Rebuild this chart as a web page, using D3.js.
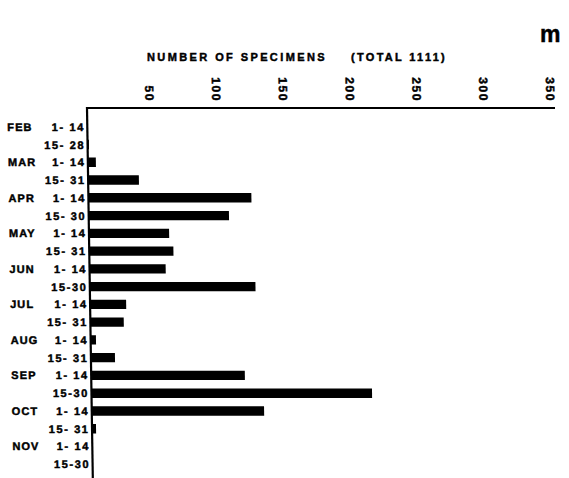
<!DOCTYPE html>
<html>
<head>
<meta charset="utf-8">
<script src="https://cdn.jsdelivr.net/npm/d3@7/dist/d3.min.js"></script>
<style>
  html, body { margin: 0; padding: 0; background: #fff; }
  svg text { font-family: "Liberation Sans", Arial, sans-serif; font-weight: bold; fill: #000; stroke: #000; stroke-width: 0.45px; }
</style>
</head>
<body>
<svg id="chart" width="569" height="478"></svg>
<script>
// Half-month collecting periods, grouped by month
const months = ["FEB", "MAR", "APR", "MAY", "JUN", "JUL", "AUG", "SEP", "OCT", "NOV"];
const periods = [
  "1- 14", "15- 28",
  "1- 14", "15- 31",
  "1- 14", "15- 30",
  "1- 14", "15- 31",
  "1- 14", "15-30",
  "1- 14", "15- 31",
  "1- 14", "15- 31",
  "1- 14", "15-30",
  "1- 14", "15- 31",
  "1- 14", "15-30"
];
// Specimens collected in each period
const counts = [0, 1, 6, 38, 122, 105, 60, 63, 57, 124, 27, 25, 4, 18, 115, 210, 129, 3, 0, 0];
const tickValues = [50, 100, 150, 200, 250, 300, 350];
const titleText = "NUMBER OF SPECIMENS";
const totalText = "(TOTAL 1111)";
const panelLetter = "m";

const svg = d3.select("#chart");
const axisTop = 108, axisBottom = 478, axisLeft = 87, axisRight = 555;

const rows = periods.map((p, i) => ({ id: i, month: i % 2 === 0 ? months[i / 2] : "", period: p, value: counts[i] }));

const x = d3.scaleLinear().domain([0, 350]).range([axisLeft, axisLeft + 350 * 1.336]);
const y = d3.scaleBand().domain(rows.map(d => d.id)).range([118, 473]).paddingInner(0.47).paddingOuter(0.23);

// the printed plate leans slightly to the right going down the page
const g = svg.append("g")
  .attr("transform", `translate(0,${axisTop}) skewX(0.9) translate(0,${-axisTop})`);

// frame: top value axis and left baseline
g.append("line").attr("x1", axisLeft - 1).attr("x2", axisRight).attr("y1", axisTop).attr("y2", axisTop)
  .attr("stroke", "#000").attr("stroke-width", 2);
g.append("line").attr("x1", axisLeft).attr("x2", axisLeft).attr("y1", axisTop - 1).attr("y2", axisBottom)
  .attr("stroke", "#000").attr("stroke-width", 2.2);

// rotated tick labels above the axis
g.selectAll("text.tick").data(tickValues).join("text")
  .attr("class", "tick")
  .attr("transform", d => `translate(${x(d) - 4},102) rotate(90)`)
  .attr("text-anchor", "end")
  .attr("dy", "0.36em")
  .attr("font-size", 12)
  .attr("letter-spacing", 1.6)
  .text(d => d);

// bars
g.selectAll("rect.bar").data(rows.filter(d => d.value > 0)).join("rect")
  .attr("class", "bar")
  .attr("x", x(0))
  .attr("y", d => y(d.id))
  .attr("width", d => x(d.value) - x(0))
  .attr("height", y.bandwidth())
  .attr("fill", "#000");

// row labels
const cy = d => y(d.id) + y.bandwidth() / 2;
g.selectAll("text.month").data(rows.filter(d => d.month)).join("text")
  .attr("class", "month")
  .attr("x", 7)
  .attr("y", cy)
  .attr("dy", "0.36em")
  .attr("font-size", 11)
  .attr("letter-spacing", 1.1)
  .text(d => d.month);
g.selectAll("text.period").data(rows).join("text")
  .attr("class", "period")
  .attr("x", 84.5)
  .attr("y", cy)
  .attr("dy", "0.36em")
  .attr("text-anchor", "end")
  .attr("font-size", 11)
  .attr("letter-spacing", 1.6)
  .attr("xml:space", "preserve")
  .text(d => d.period);

// title
svg.append("text").attr("x", 147).attr("y", 61).attr("font-size", 11).attr("letter-spacing", 2.4)
  .text(titleText);
svg.append("text").attr("x", 351).attr("y", 61).attr("font-size", 11).attr("letter-spacing", 2.3)
  .text(totalText);

// panel letter
svg.append("text").attr("x", 540).attr("y", 42).attr("font-size", 23).text(panelLetter);
</script>
</body>
</html>
